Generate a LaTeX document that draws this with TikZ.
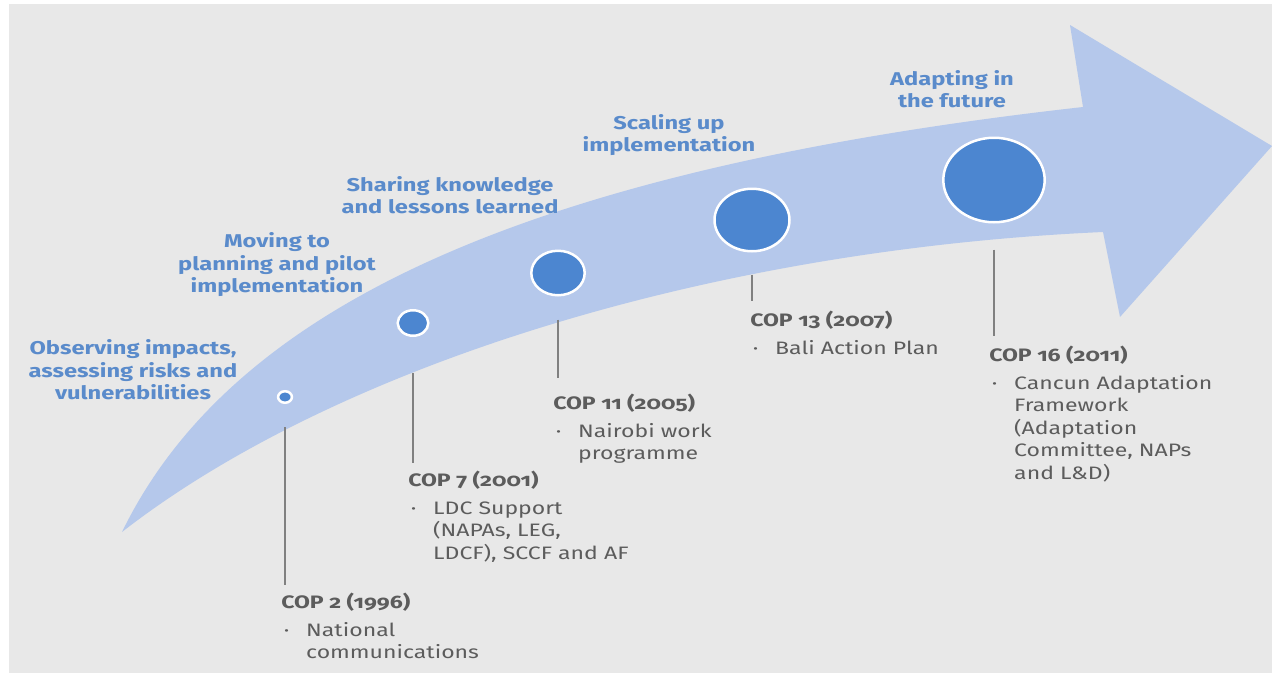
\documentclass[tikz,border=0pt]{standalone}
\usepackage{fontspec}
\setmainfont{Fira Sans}[Numbers=OldStyle]
\usetikzlibrary{positioning}

\definecolor{bggray}{HTML}{E8E8E8}
\definecolor{bandblue}{HTML}{B5C8EB}
\definecolor{dotblue}{HTML}{4C86D0}
\definecolor{headblue}{HTML}{5A8BCB}
\definecolor{textgray}{HTML}{5C5C5C}
\definecolor{tickgray}{HTML}{808080}

\newcommand{\blt}{\makebox[19.5pt][l]{\hspace{2pt}\textperiodcentered}}
\newcommand{\ind}{\hspace*{19.5pt}}

\begin{document}
\begin{tikzpicture}[
    x=1pt, y=-1pt,
    dot/.style={circle, fill=dotblue, draw=white, line width=2.5pt,
                inner sep=0pt, xscale=1.2},
    phase/.style={font=\fontsize{18.5}{22.5}\selectfont\bfseries,
                  text=headblue, align=center, inner sep=0pt, xscale=1.28},
    cop/.style={font=\fontsize{18}{22.5}\selectfont, text=textgray,
                align=left, anchor=north west, inner sep=0pt, xscale=1.28},
    tick/.style={draw=tickgray, line width=1.5pt}
]
  \useasboundingbox (0,0) rectangle (1272,673);
  \fill[white] (0,0) rectangle (1272,673);
  \fill[bggray] (9,4) rectangle (1272,673);

  % curved arrow
  \fill[bandblue] (122,532) .. controls (230,310) and (520,170) .. (1083,107)
    -- (1070,25) -- (1272,146) -- (1120,317) -- (1103,232)
    .. controls (700,250) and (330,370) .. (122,532) -- cycle;

  % milestones
  \node[dot, minimum size=11.5pt] (c2)  at (285,397) {};
  \node[dot, minimum size=25.5pt] (c7)  at (413,323) {};
  \node[dot, minimum size=44.5pt] (c11) at (558,273) {};
  \node[dot, minimum size=62.5pt] (c13) at (752,220) {};
  \node[dot, minimum size=84.5pt] (c16) at (994,180) {};

  % phases
  \node[phase] (p1) at (133,370) {Observing impacts,\\assessing risks and\\vulnerabilities};
  \node[phase] (p2) at (277,265) {Moving to\\planning and pilot\\implementation};
  \node[phase] (p3) at (450,195) {Sharing knowledge\\and lessons learned};
  \node[phase] (p4) at (669,135) {Scaling up\\implementation};
  \node[phase] (p5) at (952,89)  {Adapting in\\the future};

  % COP labels
  \node[cop] (l2)  at (281,592.5) {\textbf{COP 2 (1996)}\\[5.5pt]\blt National\\\ind communications};
  \node[cop] (l7)  at (408,470.5) {\textbf{COP 7 (2001)}\\[5.5pt]\blt LDC Support\\\ind (NAPAs, LEG,\\\ind LDCF), SCCF and AF};
  \node[cop] (l11) at (553,393.5) {\textbf{COP 11 (2005)}\\[5.5pt]\blt Nairobi work\\\ind programme};
  \node[cop] (l13) at (750,310.5) {\textbf{COP 13 (2007)}\\[5.5pt]\blt Bali Action Plan};
  \node[cop] (l16) at (989,345.5) {\textbf{COP 16 (2011)}\\[5.5pt]\blt Cancun Adaptation\\\ind Framework\\\ind (Adaptation\\\ind Committee, NAPs\\\ind and L\&D)};

  \draw[tick] ([yshift=-23pt]c2.south)  -- ([yshift=8pt]c2 |- l2.north);
  \draw[tick] ([yshift=-36pt]c7.south)  -- ([yshift=8pt]c7 |- l7.north);
  \draw[tick] ([yshift=-23pt]c11.south) -- ([yshift=16pt]c11 |- l11.north);
  \draw[tick] ([yshift=-22pt]c13.south) -- ([yshift=10pt]c13 |- l13.north);
  \draw[tick] ([yshift=-26pt]c16.south) -- ([yshift=10pt]c16 |- l16.north);
\end{tikzpicture}
\end{document}
